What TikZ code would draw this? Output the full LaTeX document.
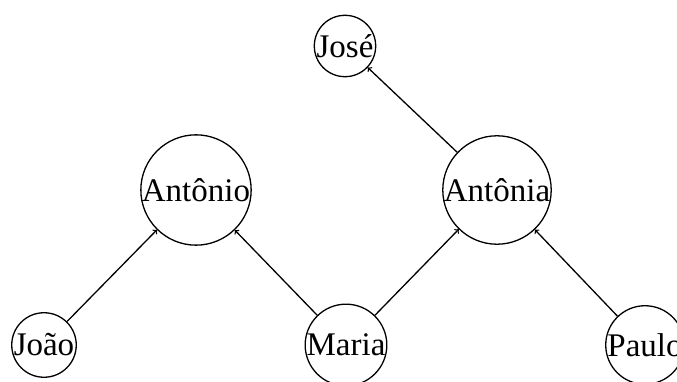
\documentclass[tikz,border=0pt]{standalone}
\usepackage{fontspec}
\setmainfont{Liberation Serif}
\begin{document}
\begin{tikzpicture}[x=1pt,y=-1pt,line width=1.3pt,
  person/.style={circle,draw,inner sep=0pt,font=\fontsize{33}{40}\selectfont},
  link/.style={->}]
\useasboundingbox (0,0) rectangle (677,382);
\node[person] (jose) at (345,46) {José};
\node[person] (antonio) at (196,190) {Antônio};
\node[person] (antonia) at (497,190) {Antônia};
\node[person] (joao) at (44,345) {João};
\node[person] (maria) at (346,345) {Maria};
\node[person] (paulo) at (645,345) {Paulo};
\draw[link] (joao) -- (antonio);
\draw[link] (maria) -- (antonio);
\draw[link] (maria) -- (antonia);
\draw[link] (paulo) -- (antonia);
\draw[link] (antonia) -- (jose);
\end{tikzpicture}
\end{document}
